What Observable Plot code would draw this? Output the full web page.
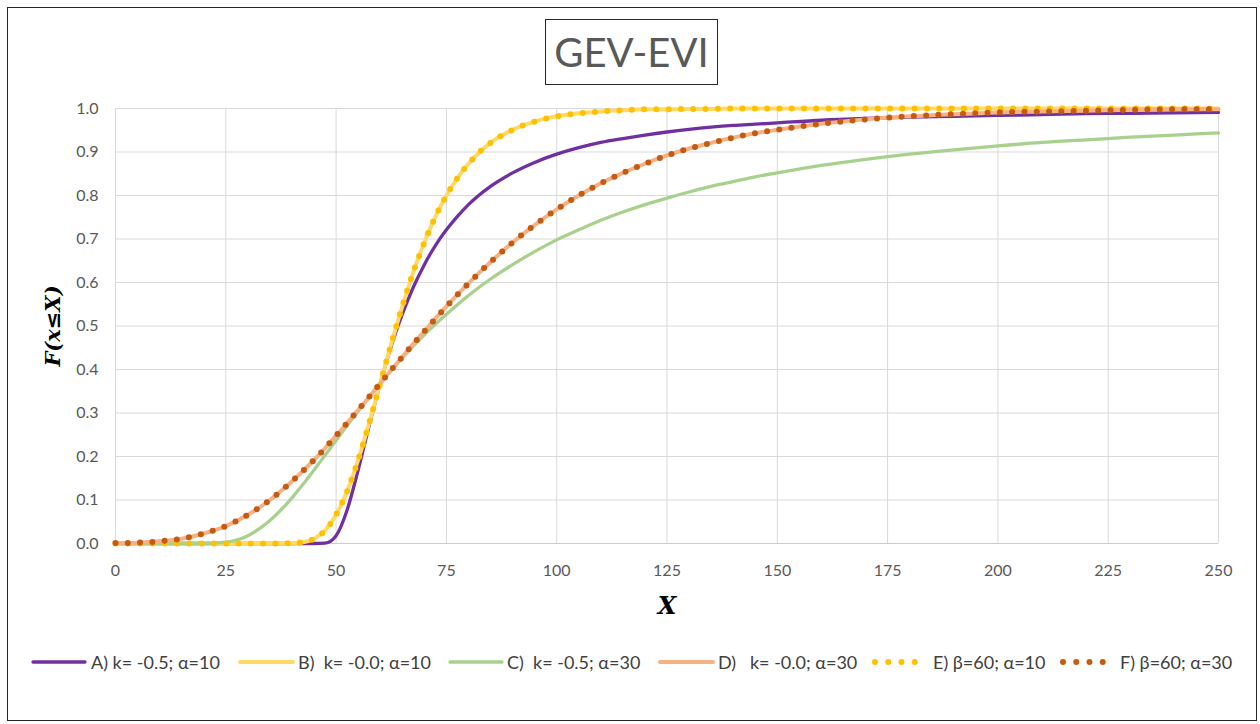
<!DOCTYPE html>
<html><head><meta charset="utf-8">
<script src="https://cdn.jsdelivr.net/npm/d3@7"></script>
<script src="https://cdn.jsdelivr.net/npm/@observablehq/plot@0.6"></script>
<style>
html,body{margin:0;padding:0;background:#fff;}
#root{position:relative;width:1260px;height:724px;overflow:hidden;background:#fff;font-family:Lato,sans-serif;}
#frame{position:absolute;left:7px;top:7px;width:1248px;height:712px;border:1px solid #262626;pointer-events:none;}
#header{position:relative;height:95px;}
#title{position:absolute;left:545px;top:19px;width:171px;height:64px;border:1px solid #262626;color:#595959;font-size:40px;line-height:64px;text-align:center;}
#chart{height:535px;}
#legend{position:relative;height:94px;}
.sw{position:absolute;top:22px;height:20px;}
.lt{position:absolute;top:20px;height:24px;line-height:24px;white-space:pre;font-size:18px;color:#404040;}
</style></head>
<body>
<div id="root">
  <div id="header"><div id="title">GEV-EVI</div></div>
  <div id="chart"></div>
  <div id="legend"></div>
  <div id="frame"></div>
</div>
<script>
// X positions of the sampled points
const xValues = [0,5,10,15,20,25,30,35,40,42.5,45,47.5,50,52.5,55,57.5,60,62.5,65,67.5,70,72.5,75,77.5,80,85,90,95,100,105,110,115,120,125,130,135,140,145,150,160,170,180,190,200,210,220,230,240,250];

// A) k=-0.5; alpha=10
const seriesA = [0,0,0,0,0,0,0,0,0,0,0,0.001,0.018,0.077,0.169,0.271,0.368,0.454,0.527,0.589,0.641,0.685,0.721,0.752,0.779,0.821,0.852,0.876,0.895,0.910,0.922,0.931,0.939,0.946,0.952,0.957,0.961,0.964,0.967,0.973,0.977,0.980,0.982,0.984,0.986,0.988,0.989,0.990,0.991];
// B) k=-0.0; alpha=10
const seriesB = [0,0,0,0,0,0,0,0,0.001,0.003,0.011,0.030,0.066,0.120,0.192,0.277,0.368,0.459,0.545,0.624,0.692,0.751,0.800,0.840,0.873,0.921,0.951,0.970,0.982,0.989,0.993,0.996,0.998,0.998,0.999,0.999,1,1,1,1,1,1,1,1,1,1,1,1,1];
// C) k=-0.5; alpha=30
const seriesC = [0,0,0,0,0,0.003,0.018,0.053,0.105,0.136,0.169,0.203,0.237,0.271,0.304,0.337,0.368,0.398,0.427,0.454,0.480,0.504,0.527,0.549,0.570,0.608,0.641,0.671,0.698,0.721,0.743,0.762,0.779,0.794,0.808,0.821,0.832,0.843,0.852,0.869,0.883,0.895,0.905,0.914,0.922,0.928,0.934,0.939,0.944];
// D) k=-0.0; alpha=30
const seriesD = [0.001,0.002,0.005,0.011,0.023,0.040,0.066,0.100,0.143,0.167,0.192,0.219,0.248,0.277,0.307,0.337,0.368,0.399,0.429,0.459,0.488,0.517,0.545,0.572,0.598,0.647,0.692,0.732,0.768,0.800,0.828,0.852,0.873,0.892,0.908,0.921,0.933,0.943,0.951,0.965,0.975,0.982,0.987,0.991,0.993,0.995,0.997,0.998,0.998];
// E) beta=60; alpha=10
const seriesE = [0,0,0,0,0,0,0,0,0.001,0.003,0.011,0.030,0.066,0.120,0.192,0.277,0.368,0.459,0.545,0.624,0.692,0.751,0.800,0.840,0.873,0.921,0.951,0.970,0.982,0.989,0.993,0.996,0.998,0.998,0.999,0.999,1,1,1,1,1,1,1,1,1,1,1,1,1];
// F) beta=60; alpha=30
const seriesF = [0.001,0.002,0.005,0.011,0.023,0.040,0.066,0.100,0.143,0.167,0.192,0.219,0.248,0.277,0.307,0.337,0.368,0.399,0.429,0.459,0.488,0.517,0.545,0.572,0.598,0.647,0.692,0.732,0.768,0.800,0.828,0.852,0.873,0.892,0.908,0.921,0.933,0.943,0.951,0.965,0.975,0.982,0.987,0.991,0.993,0.995,0.997,0.998,0.998];

const legendLabels = ["A) k= -0.5; α=10", "B)  k= -0.0; α=10", "C)  k= -0.5; α=30", "D)   k= -0.0; α=30", "E) β=60; α=10", "F) β=60; α=30"];
const xTicks = [0,25,50,75,100,125,150,175,200,225,250];
const yTicks = [0,0.1,0.2,0.3,0.4,0.5,0.6,0.7,0.8,0.9,1.0];

const styles = [
  {values: seriesA, color: "#7030a0", width: 3.3, dash: null},
  {values: seriesB, color: "#ffd966", width: 4, dash: null},
  {values: seriesC, color: "#a9d18e", width: 3.3, dash: null},
  {values: seriesD, color: "#f4b183", width: 4, dash: null},
  {values: seriesE, color: "#ffc000", width: 6, dash: "0 12.3"},
  {values: seriesF, color: "#c55a11", width: 6, dash: "0 12.3"}
];

const lineMarks = styles.map(s => Plot.line(
  xValues.map((x, i) => ({x, y: s.values[i]})),
  {x: "x", y: "y", stroke: s.color, strokeWidth: s.width, curve: "monotone-x",
   strokeDasharray: s.dash, strokeLinecap: "round", strokeLinejoin: "round"}
));

const chart = Plot.plot({
  width: 1260,
  height: 535,
  marginLeft: 115,
  marginRight: 42,
  marginTop: 13,
  marginBottom: 87,
  style: {fontFamily: "Lato", fontSize: "16px", color: "#595959", background: "transparent", overflow: "visible"},
  x: {domain: [0, 250], ticks: xTicks, tickSize: 0, tickPadding: 21, label: null},
  y: {domain: [0, 1], ticks: yTicks, tickSize: 0, tickPadding: 17, tickFormat: d3.format(".1f"), label: null},
  marks: [
    Plot.ruleX(xTicks, {stroke: "#d9d9d9", strokeWidth: 1}),
    Plot.ruleY(yTicks, {stroke: "#d9d9d9", strokeWidth: 1}),
    Plot.ruleY([0], {stroke: "#cccccc", strokeWidth: 1}),
    ...lineMarks,
    Plot.text(["X"], {frameAnchor: "bottom", dy: 70, text: d => d, textAnchor: "middle", fontFamily: "DejaVu Serif", fontWeight: "bold", fontStyle: "italic", fontSize: 24, fill: "#000"}),
    Plot.text(["F(x≤X)"], {frameAnchor: "left", dx: -62, rotate: -90, text: d => d, textAnchor: "middle", lineAnchor: "middle", fontFamily: "DejaVu Serif", fontWeight: "bold", fontStyle: "italic", fontSize: 21, fill: "#000"})
  ]
});
document.getElementById("chart").appendChild(chart);

// Legend (HTML below the chart)
const legendPos = [[33, 85, 91], [240, 293, 298], [450, 502, 507], [660, 713, 718], [875, 928, 933], [1063, 1116, 1120]];
const legend = document.getElementById("legend");
styles.forEach((s, i) => {
  const [x0, x1, tx] = legendPos[i];
  const w = x1 - x0;
  const svg = d3.create("svg").attr("class", "sw").attr("width", w + 8).attr("height", 20)
    .style("left", (x0 - 4) + "px");
  svg.append("line").attr("x1", 4).attr("x2", 4 + w).attr("y1", 10).attr("y2", 10)
    .attr("stroke", s.color).attr("stroke-width", s.dash ? 6 : s.width)
    .attr("stroke-linecap", "round")
    .attr("stroke-dasharray", s.dash ? "0 " + (w / 4) : null);
  legend.appendChild(svg.node());
  const t = document.createElement("div");
  t.className = "lt";
  t.style.left = tx + "px";
  t.textContent = legendLabels[i];
  legend.appendChild(t);
});
</script>
</body></html>
